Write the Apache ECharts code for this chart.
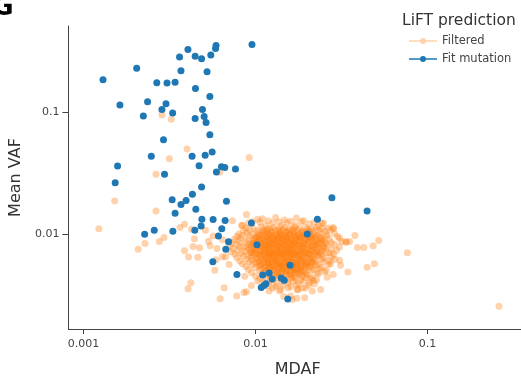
<!DOCTYPE html>
<html>
<head>
<meta charset="utf-8">
<script src="https://cdn.jsdelivr.net/npm/echarts@6/dist/echarts.min.js"></script>
<style>
  html, body { margin: 0; padding: 0; background: #ffffff; }
  #chart { width: 521px; height: 383px; }
</style>
</head>
<body>
<div id="chart"></div>
<script>
// Legend entries / series names
const seriesNames = ['Filtered', 'Fit mutation'];

// Tick values on the two log axes
const xTicks = [0.001, 0.01, 0.1];
const yTicks = [0.01, 0.1];

// Visible axis extents
const xRange = [0.000818, 0.349];
const yRange = [0.00166, 0.507];

// [MDAF, mean VAF] for variants removed by the filter
const filteredPoints = [
  [0.00123,0.0110],[0.00286,0.0945],[0.00324,0.0872],[0.0040,0.0497],[0.00316,0.0414],
  [0.00264,0.0309],[0.00152,0.0186],[0.00264,0.0154],[0.00919,0.0423],[0.00618,0.0320],
  [0.00886,0.0144],[0.00735,0.0128],[0.00387,0.0120],[0.0103,0.0132],[0.00228,0.00835],
  [0.00208,0.0075],[0.00276,0.00867],[0.00294,0.00935],[0.00364,0.0113],[0.00425,0.0109],
  [0.00442,0.00911],[0.00434,0.0079],[0.00473,0.00769],[0.00387,0.00727],[0.00408,0.00646],
  [0.00462,0.00643],[0.00512,0.0107],[0.00533,0.00872],[0.00545,0.0080],[0.00567,0.00963],
  [0.00598,0.0076],[0.00643,0.0065],[0.0067,0.0065],[0.0058,0.00504],[0.00421,0.00397],
  [0.00405,0.00355],[0.00623,0.00294],[0.00702,0.0056],[0.00643,0.00894],[0.00778,0.0031],
  [0.00886,0.00336],[0.00947,0.00378],[0.00866,0.0045],[0.0103,0.0041],[0.012,0.0034],
  [0.0138,0.0034],[0.0146,0.00306],[0.016,0.0031],[0.0174,0.00296],[0.0176,0.00348],
  [0.0193,0.0030],[0.0239,0.0035],[0.0217,0.00415],[0.0261,0.00442],[0.0283,0.00464],
  [0.26,0.00255],[0.0378,0.0097],[0.0352,0.00867],[0.0336,0.0086],[0.0391,0.00775],
  [0.0426,0.00775],[0.0483,0.0080],[0.052,0.00884],[0.0445,0.00533],[0.0491,0.0057],
  [0.0344,0.00486],[0.0312,0.00553],[0.0308,0.00608],[0.0289,0.0062],[0.0317,0.00867],
  [0.0283,0.0113],[0.0243,0.0123],[0.0763,0.0070],[0.0084,0.0118],[0.0059,0.00615],
  [0.00657,0.00362],[0.00858,0.0033],[0.0163,0.0029],
  [0.0110,0.0133],[0.0131,0.0136],[0.0147,0.0130],[0.0173,0.0135],
  [0.0096,0.0126],[0.0119,0.0128],[0.0137,0.0125],[0.0160,0.0127],[0.0190,0.0129],[0.0220,0.0124],
  [0.0083,0.0117],[0.0091,0.0123],[0.0106,0.0125],[0.0115,0.0117],[0.0126,0.0123],[0.0141,0.0116],
  [0.0153,0.0124],[0.0171,0.0118],[0.0185,0.0126],[0.0205,0.0121],[0.0232,0.0116],[0.0248,0.0122],
  [0.0088,0.0112],[0.0098,0.0110],[0.0108,0.0114],[0.0118,0.0111],[0.0127,0.0113],[0.0136,0.0110],
  [0.0147,0.0113],[0.0158,0.0110],[0.0168,0.0114],[0.0180,0.0111],[0.0195,0.0113],[0.0211,0.0110],
  [0.0226,0.0113],[0.0245,0.0111],[0.0265,0.0112],[0.0284,0.0110],
  [0.0085,0.0106],[0.0092,0.0108],[0.0102,0.0105],[0.0110,0.0108],[0.0116,0.0106],[0.0122,0.0109],
  [0.0131,0.0107],[0.0137,0.0105],[0.0145,0.0108],[0.0155,0.0106],[0.0164,0.0109],[0.0175,0.0107],
  [0.0187,0.0105],[0.0200,0.0108],[0.0214,0.0106],[0.0232,0.0107],[0.0252,0.0105],[0.0273,0.0108],
  [0.0080,0.0100],[0.0089,0.0102],[0.0096,0.0099],[0.0105,0.0101],[0.0112,0.0103],[0.0118,0.0100],
  [0.0124,0.0102],[0.0133,0.0099],[0.0140,0.0101],[0.0150,0.0103],[0.0158,0.0100],[0.0166,0.0102],
  [0.0178,0.0099],[0.0190,0.0101],[0.0203,0.0103],[0.0217,0.0100],[0.0236,0.0102],[0.0258,0.0099],
  [0.0288,0.0101],
  [0.0078,0.0095],[0.0084,0.0097],[0.0092,0.0096],[0.0100,0.0094],[0.0107,0.0097],[0.0115,0.0095],
  [0.0121,0.0098],[0.0127,0.0096],[0.0134,0.0094],[0.0143,0.0097],[0.0151,0.0095],[0.0160,0.0098],
  [0.0171,0.0096],[0.0180,0.0094],[0.0193,0.0097],[0.0206,0.0095],[0.0220,0.0096],[0.0239,0.0094],
  [0.0261,0.0097],[0.0300,0.0095],
  [0.0075,0.0090],[0.0082,0.0092],[0.0090,0.0089],[0.0098,0.0091],[0.0105,0.0093],[0.0110,0.0090],
  [0.0116,0.0092],[0.0122,0.0089],[0.0129,0.0091],[0.0137,0.0093],[0.0145,0.0090],[0.0153,0.0092],
  [0.0164,0.0089],[0.0173,0.0091],[0.0185,0.0093],[0.0197,0.0090],[0.0211,0.0092],[0.0226,0.0089],
  [0.0245,0.0091],[0.0269,0.0090],[0.0308,0.0092],
  [0.0073,0.0085],[0.0080,0.0087],[0.0087,0.0086],[0.0094,0.0084],[0.0102,0.0087],[0.0108,0.0085],
  [0.0115,0.0088],[0.0121,0.0086],[0.0127,0.0084],[0.0134,0.0087],[0.0141,0.0085],[0.0150,0.0088],
  [0.0158,0.0086],[0.0168,0.0084],[0.0178,0.0087],[0.0190,0.0085],[0.0203,0.0088],[0.0217,0.0086],
  [0.0232,0.0084],[0.0252,0.0087],[0.0276,0.0085],[0.0336,0.0086],
  [0.0071,0.0080],[0.0078,0.0082],[0.0085,0.0079],[0.0092,0.0081],[0.0099,0.0083],[0.0106,0.0080],
  [0.0112,0.0082],[0.0118,0.0079],[0.0124,0.0081],[0.0131,0.0083],[0.0140,0.0080],[0.0147,0.0082],
  [0.0155,0.0079],[0.0164,0.0081],[0.0173,0.0083],[0.0183,0.0080],[0.0195,0.0082],[0.0209,0.0079],
  [0.0223,0.0081],[0.0242,0.0083],[0.0261,0.0080],[0.0288,0.0082],
  [0.0074,0.0076],[0.0081,0.0078],[0.0089,0.0077],[0.0096,0.0075],[0.0103,0.0078],[0.0110,0.0076],
  [0.0116,0.0078],[0.0122,0.0077],[0.0129,0.0075],[0.0136,0.0078],[0.0143,0.0076],[0.0151,0.0077],
  [0.0160,0.0075],[0.0168,0.0078],[0.0180,0.0076],[0.0190,0.0077],[0.0203,0.0075],[0.0217,0.0078],
  [0.0232,0.0076],[0.0252,0.0077],[0.0276,0.0075],[0.0308,0.0078],
  [0.0072,0.0071],[0.0079,0.0073],[0.0087,0.0072],[0.0094,0.0070],[0.0100,0.0073],[0.0107,0.0071],
  [0.0113,0.0073],[0.0119,0.0072],[0.0126,0.0070],[0.0133,0.0073],[0.0140,0.0071],[0.0147,0.0072],
  [0.0155,0.0070],[0.0164,0.0073],[0.0173,0.0071],[0.0185,0.0072],[0.0197,0.0070],[0.0211,0.0073],
  [0.0226,0.0071],[0.0245,0.0072],[0.0269,0.0070],[0.0296,0.0073],
  [0.0076,0.0068],[0.0083,0.0069],[0.0091,0.0067],[0.0098,0.0070],[0.0105,0.0068],[0.0112,0.0069],
  [0.0118,0.0067],[0.0124,0.0070],[0.0131,0.0068],[0.0137,0.0069],[0.0145,0.0067],[0.0153,0.0070],
  [0.0162,0.0068],[0.0171,0.0069],[0.0180,0.0067],[0.0193,0.0070],[0.0206,0.0068],[0.0220,0.0069],
  [0.0239,0.0067],[0.0258,0.0070],[0.0284,0.0068],
  [0.0078,0.0064],[0.0085,0.0066],[0.0094,0.0065],[0.0102,0.0063],[0.0108,0.0066],[0.0115,0.0064],
  [0.0121,0.0066],[0.0127,0.0065],[0.0134,0.0063],[0.0141,0.0066],[0.0150,0.0064],[0.0158,0.0065],
  [0.0166,0.0063],[0.0175,0.0066],[0.0187,0.0064],[0.0200,0.0065],[0.0214,0.0063],[0.0232,0.0066],
  [0.0252,0.0064],[0.0276,0.0065],
  [0.0081,0.0060],[0.0089,0.0062],[0.0096,0.0061],[0.0105,0.0059],[0.0112,0.0062],[0.0118,0.0060],
  [0.0124,0.0062],[0.0131,0.0061],[0.0137,0.0059],[0.0145,0.0062],[0.0153,0.0060],[0.0162,0.0061],
  [0.0171,0.0059],[0.0183,0.0062],[0.0195,0.0060],[0.0209,0.0061],[0.0226,0.0059],[0.0245,0.0062],
  [0.0269,0.0060],
  [0.0084,0.0057],[0.0092,0.0059],[0.0100,0.0058],[0.0107,0.0056],[0.0113,0.0059],[0.0119,0.0057],
  [0.0126,0.0059],[0.0133,0.0058],[0.0140,0.0056],[0.0147,0.0059],[0.0155,0.0057],[0.0164,0.0058],
  [0.0173,0.0056],[0.0185,0.0059],[0.0197,0.0057],[0.0211,0.0058],[0.0229,0.0056],[0.0248,0.0059],
  [0.0273,0.0057],
  [0.0088,0.0054],[0.0096,0.0056],[0.0105,0.0055],[0.0112,0.0053],[0.0119,0.0056],[0.0126,0.0054],
  [0.0133,0.0056],[0.0140,0.0055],[0.0147,0.0053],[0.0155,0.0056],[0.0164,0.0054],[0.0173,0.0055],
  [0.0183,0.0053],[0.0195,0.0056],[0.0209,0.0054],[0.0223,0.0055],[0.0242,0.0053],[0.0265,0.0056],
  [0.0091,0.0051],[0.0100,0.0053],[0.0108,0.0052],[0.0116,0.0050],[0.0122,0.0053],[0.0129,0.0051],
  [0.0136,0.0053],[0.0143,0.0052],[0.0151,0.0050],[0.0160,0.0053],[0.0168,0.0051],[0.0178,0.0052],
  [0.0190,0.0050],[0.0203,0.0053],[0.0217,0.0051],[0.0236,0.0052],[0.0258,0.0050],
  [0.0095,0.0048],[0.0105,0.0050],[0.0113,0.0049],[0.0121,0.0047],[0.0127,0.0050],[0.0134,0.0048],
  [0.0141,0.0050],[0.0150,0.0049],[0.0158,0.0047],[0.0166,0.0050],[0.0175,0.0048],[0.0185,0.0049],
  [0.0197,0.0047],[0.0211,0.0050],[0.0229,0.0048],[0.0252,0.0049],
  [0.0100,0.0045],[0.0110,0.0047],[0.0119,0.0046],[0.0127,0.0044],[0.0136,0.0047],[0.0143,0.0045],
  [0.0151,0.0047],[0.0160,0.0046],[0.0168,0.0044],[0.0178,0.0047],[0.0187,0.0045],[0.0200,0.0046],
  [0.0214,0.0044],[0.0232,0.0047],
  [0.0106,0.0043],[0.0116,0.0044],[0.0126,0.0042],[0.0134,0.0044],[0.0143,0.0043],[0.0153,0.0042],
  [0.0162,0.0044],[0.0171,0.0043],[0.0183,0.0042],[0.0195,0.0044],[0.0209,0.0043],[0.0226,0.0042],
  [0.0112,0.0040],[0.0122,0.0041],[0.0133,0.0039],[0.0143,0.0041],[0.0155,0.0040],[0.0166,0.0041],
  [0.0178,0.0039],[0.0190,0.0041],[0.0206,0.0040],[0.0220,0.0039],
  [0.0119,0.0038],[0.0131,0.0037],[0.0145,0.0038],[0.0160,0.0037],[0.0173,0.0038],[0.0187,0.0036],
  [0.0203,0.0038],
  [0.0126,0.0036],[0.0140,0.0035],[0.0155,0.0036],[0.0175,0.0035],[0.0195,0.0036],[0.0214,0.0034],
  // dense centre of the cluster
  [0.0112,0.0104],[0.0124,0.0105],[0.0138,0.0103],[0.0152,0.0104],[0.0168,0.0105],[0.0185,0.0103],[0.0205,0.0104],
  [0.0104,0.0098],[0.0113,0.0099],[0.0122,0.0097],[0.0130,0.0098],[0.0139,0.0099],[0.0148,0.0097],
  [0.0157,0.0098],[0.0168,0.0099],[0.0178,0.0097],[0.0192,0.0098],[0.0208,0.0099],[0.0228,0.0097],
  [0.0101,0.0093],[0.0108,0.0092],[0.0118,0.0094],[0.0126,0.0093],[0.0134,0.0092],[0.0142,0.0094],
  [0.0150,0.0093],[0.0160,0.0092],[0.0169,0.0094],[0.0181,0.0093],[0.0193,0.0092],[0.0206,0.0094],
  [0.0222,0.0093],[0.0240,0.0092],
  [0.0098,0.0088],[0.0105,0.0089],[0.0112,0.0087],[0.0119,0.0088],[0.0125,0.0089],[0.0132,0.0087],
  [0.0139,0.0088],[0.0146,0.0089],[0.0155,0.0087],[0.0163,0.0088],[0.0172,0.0089],[0.0182,0.0087],
  [0.0194,0.0088],[0.0208,0.0089],[0.0224,0.0087],[0.0243,0.0088],
  [0.0096,0.0083],[0.0103,0.0084],[0.0110,0.0082],[0.0117,0.0083],[0.0123,0.0084],[0.0129,0.0082],
  [0.0137,0.0083],[0.0144,0.0084],[0.0152,0.0082],[0.0160,0.0083],[0.0169,0.0084],[0.0179,0.0082],
  [0.0190,0.0083],[0.0202,0.0084],[0.0216,0.0082],[0.0233,0.0083],[0.0255,0.0084],
  [0.0094,0.0079],[0.0100,0.0078],[0.0108,0.0080],[0.0114,0.0079],[0.0120,0.0078],[0.0127,0.0080],
  [0.0134,0.0079],[0.0141,0.0078],[0.0149,0.0080],[0.0157,0.0079],[0.0166,0.0078],[0.0176,0.0080],
  [0.0187,0.0079],[0.0199,0.0078],[0.0213,0.0080],[0.0229,0.0079],[0.0249,0.0078],
  [0.0092,0.0074],[0.0099,0.0075],[0.0106,0.0073],[0.0113,0.0074],[0.0119,0.0075],[0.0125,0.0073],
  [0.0132,0.0074],[0.0139,0.0075],[0.0147,0.0073],[0.0155,0.0074],[0.0164,0.0075],[0.0174,0.0073],
  [0.0184,0.0074],[0.0196,0.0075],[0.0210,0.0073],[0.0226,0.0074],[0.0244,0.0075],
  [0.0095,0.0070],[0.0102,0.0069],[0.0109,0.0071],[0.0116,0.0070],[0.0122,0.0069],[0.0129,0.0071],
  [0.0136,0.0070],[0.0144,0.0069],[0.0152,0.0071],[0.0160,0.0070],[0.0169,0.0069],[0.0179,0.0071],
  [0.0190,0.0070],[0.0203,0.0069],[0.0218,0.0071],[0.0236,0.0070],
  [0.0098,0.0067],[0.0106,0.0066],[0.0113,0.0067],[0.0120,0.0068],[0.0127,0.0066],[0.0134,0.0067],
  [0.0141,0.0068],[0.0149,0.0066],[0.0157,0.0067],[0.0166,0.0068],[0.0176,0.0066],[0.0187,0.0067],
  [0.0199,0.0068],[0.0213,0.0066],[0.0230,0.0067],
  [0.0101,0.0063],[0.0109,0.0062],[0.0116,0.0064],[0.0123,0.0063],[0.0130,0.0062],[0.0138,0.0064],
  [0.0146,0.0063],[0.0154,0.0062],[0.0163,0.0064],[0.0172,0.0063],[0.0182,0.0062],[0.0193,0.0064],
  [0.0206,0.0063],[0.0221,0.0062],
  [0.0104,0.0059],[0.0111,0.0060],[0.0118,0.0058],[0.0125,0.0059],[0.0133,0.0060],[0.0141,0.0058],
  [0.0149,0.0059],[0.0158,0.0060],[0.0167,0.0058],[0.0177,0.0059],[0.0188,0.0060],[0.0200,0.0058],
  [0.0214,0.0059],
  [0.0108,0.0056],[0.0115,0.0055],[0.0122,0.0057],[0.0130,0.0056],[0.0138,0.0055],[0.0146,0.0057],
  [0.0155,0.0056],[0.0164,0.0055],[0.0174,0.0057],[0.0185,0.0056],[0.0197,0.0055],[0.0210,0.0057],
  [0.0113,0.0053],[0.0120,0.0052],[0.0128,0.0054],[0.0136,0.0053],[0.0144,0.0052],[0.0153,0.0054],
  [0.0162,0.0053],[0.0172,0.0052],[0.0183,0.0054],[0.0195,0.0053],
  [0.0118,0.0050],[0.0126,0.0051],[0.0134,0.0049],[0.0143,0.0050],[0.0152,0.0051],[0.0161,0.0049],
  [0.0171,0.0050],[0.0182,0.0051],[0.0194,0.0049],
  [0.0124,0.0047],[0.0132,0.0046],[0.0141,0.0048],[0.0150,0.0047],[0.0160,0.0046],[0.0170,0.0048],
  [0.0181,0.0047]
];

// [MDAF, mean VAF] for variants kept as fit mutations
const fitPoints = [
  [0.0013,0.184],[0.00204,0.228],[0.00163,0.114],[0.00223,0.0928],[0.00236,0.1215],
  [0.00267,0.174],[0.00306,0.173],[0.00341,0.175],[0.00286,0.105],[0.00302,0.117],
  [0.0033,0.098],[0.00362,0.282],[0.00369,0.218],[0.00405,0.325],[0.00446,0.287],
  [0.00486,0.273],[0.00448,0.156],[0.00446,0.0884],[0.00492,0.105],[0.00503,0.0918],
  [0.00516,0.082],[0.00543,0.134],[0.00523,0.214],[0.0055,0.293],[0.00586,0.331],
  [0.0059,0.350],[0.00954,0.357],
  [0.00292,0.0592],[0.00543,0.065],[0.00248,0.0434],[0.00158,0.036],[0.00153,0.0263],
  [0.00296,0.0308],[0.00428,0.0434],[0.0051,0.0442],[0.0056,0.047],[0.0047,0.0362],
  [0.00634,0.0355],[0.00663,0.035],[0.00593,0.0322],[0.00765,0.034],[0.00486,0.0243],
  [0.0043,0.0211],[0.00395,0.0188],[0.00369,0.0174],[0.00328,0.0191],[0.00341,0.0148],
  [0.0045,0.0159],[0.00678,0.0185],[0.00488,0.0132],[0.00567,0.0131],[0.00666,0.0129],
  [0.00947,0.0123],
  [0.00227,0.00994],[0.00258,0.0107],[0.00331,0.0105],[0.00444,0.0107],[0.00483,0.0116],
  [0.00637,0.011],[0.00609,0.00963],[0.00697,0.00864],[0.00672,0.00747],[0.00565,0.00592],
  [0.0102,0.00814],
  [0.0229,0.0132],[0.020,0.010],[0.0159,0.00553],[0.0078,0.00464],[0.011,0.00461],
  [0.012,0.00479],[0.0125,0.00427],[0.0141,0.00435],[0.0147,0.00416],[0.0115,0.0039],
  [0.0112,0.00378],[0.0108,0.00363],[0.0154,0.00293],[0.0278,0.0198],[0.0445,0.0154]
];

const FONT = 'DejaVu Sans';
const AXIS_COLOR = '#444444';
const fmtTick = v => String(parseFloat(Number(v).toPrecision(6)));

// legend marker: short line with a dot in the middle
const lineDotIcon = 'path://M0,4.2H28V5.8H0Z M14,2A3,3 0 1,1 14,8A3,3 0 1,1 14,2Z';

const chart = echarts.init(document.getElementById('chart'));
chart.setOption({
  animation: false,
  backgroundColor: '#ffffff',
  title: {
    text: 'LiFT prediction',
    left: 402,
    top: 13,
    padding: 0,
    textStyle: { fontFamily: FONT, fontSize: 15.5, fontWeight: 'normal', color: '#333333' }
  },
  legend: {
    orient: 'vertical',
    left: 409,
    top: 35,
    padding: 0,
    itemWidth: 28,
    itemHeight: 10,
    itemGap: 6,
    selectedMode: false,
    textStyle: { fontFamily: FONT, fontSize: 11.5, color: '#444444' },
    data: [
      { name: seriesNames[0], icon: lineDotIcon },
      { name: seriesNames[1], icon: lineDotIcon }
    ]
  },
  grid: { left: 67, right: 0, top: 26, bottom: 51 },
  xAxis: {
    type: 'log',
    logBase: 10,
    min: xRange[0],
    max: xRange[1],
    name: 'MDAF',
    nameLocation: 'middle',
    nameGap: 33,
    nameTextStyle: { fontFamily: FONT, fontSize: 16, color: '#333333', padding: [0, 0, 0, 6] },
    axisLine: { show: true, lineStyle: { color: AXIS_COLOR, width: 1 } },
    axisTick: { show: true, length: 5, customValues: xTicks, lineStyle: { color: AXIS_COLOR } },
    axisLabel: {
      customValues: xTicks, margin: 10,
      fontFamily: FONT, fontSize: 11, color: '#444444', formatter: fmtTick
    },
    splitLine: { show: false },
    minorTick: { show: false }
  },
  yAxis: {
    type: 'log',
    logBase: 10,
    min: yRange[0],
    max: yRange[1],
    name: 'Mean VAF',
    nameLocation: 'middle',
    nameGap: 37,
    nameTextStyle: { fontFamily: FONT, fontSize: 16, color: '#333333' },
    axisLine: { show: true, lineStyle: { color: AXIS_COLOR, width: 1 } },
    axisTick: { show: true, length: 6, customValues: yTicks, lineStyle: { color: AXIS_COLOR } },
    axisLabel: {
      customValues: yTicks, margin: 9,
      fontFamily: FONT, fontSize: 11, color: '#444444', formatter: fmtTick
    },
    splitLine: { show: false },
    minorTick: { show: false }
  },
  graphic: [{
    type: 'text',
    x: 3,
    y: 8,
    silent: true,
    style: {
      text: 'G',
      font: 'bold 26px "DejaVu Sans"',
      fill: '#000000',
      align: 'center',
      verticalAlign: 'middle'
    }
  }],
  series: [
    {
      name: seriesNames[0],
      type: 'scatter',
      data: filteredPoints,
      symbol: 'circle',
      symbolSize: 7,
      itemStyle: { color: 'rgba(255,127,14,0.35)', opacity: 1 },
      z: 2
    },
    {
      name: seriesNames[1],
      type: 'scatter',
      data: fitPoints,
      symbol: 'circle',
      symbolSize: 7,
      itemStyle: { color: '#1f77b4', opacity: 1 },
      z: 3
    }
  ]
});
</script>
</body>
</html>
